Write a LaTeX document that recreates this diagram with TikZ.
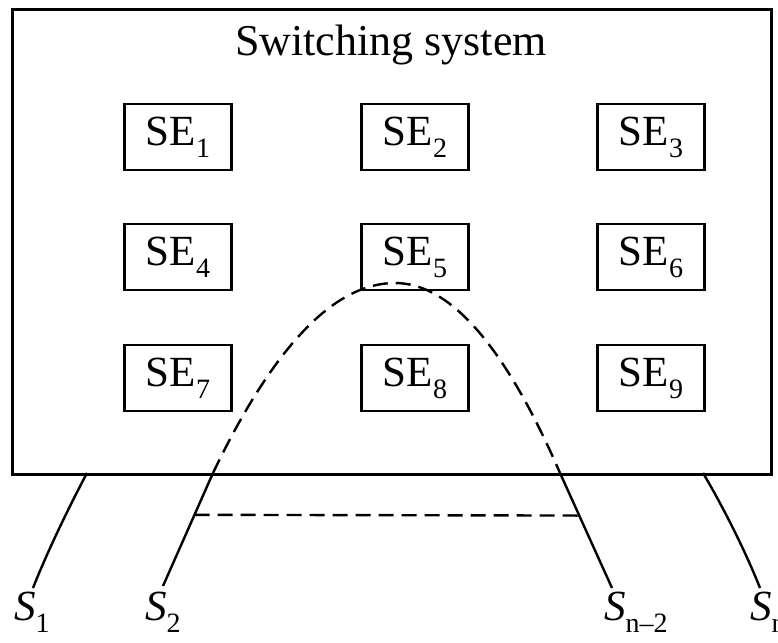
\documentclass[tikz,border=0pt]{standalone}
\usepackage{fontspec}
\setmainfont{Liberation Serif}
\usetikzlibrary{calc}
\newcommand{\lowsub}[1]{\raisebox{-0.28em}{\fontsize{28}{30}\selectfont #1}}
\begin{document}
\begin{tikzpicture}[x=1pt,y=-1pt,
  sebox/.style={draw,line width=2.4pt,minimum width=107pt,minimum height=66pt,inner sep=0pt},
  lbl/.style={font=\fontsize{43}{46}\selectfont,inner sep=0pt},
  wire/.style={line width=2.4pt},
  route/.style={line width=2.4pt,dash pattern=on 15pt off 8pt}]
\useasboundingbox (0,0) rectangle (778,642);
% switching system frame
\node[draw,line width=3pt,minimum width=759pt,minimum height=465pt,inner sep=0pt,anchor=north west] (sys) at (11,8) {};
\node[lbl,font=\fontsize{44}{48}\selectfont] (title) at (391,45) {Switching system};
% switching elements
\foreach \i/\x/\y in {1/178/137,2/415/137,3/651/137,4/178/257,5/415/257,6/651/257,7/178/378,8/415/378,9/651/378}
  \node[sebox,font=\fontsize{43}{46}\selectfont] (se\i) at (\x,\y) {SE\lowsub{\i}};
% terminal end points on the frame and below it
\coordinate (t1) at (87,473);
\coordinate (t2) at (213,473);
\coordinate (t3) at (560,473);
\coordinate (t4) at (703,473);
\coordinate (e1) at (33,588);
\coordinate (e2) at (163,586);
\coordinate (e3) at (612,588);
\coordinate (e4) at (760,588);
\coordinate (peak) at (395,283);
% terminal lines
\draw[wire] (t1) .. controls (70,505) and (48,550) .. (e1);
\draw[wire] (t2) -- (e2);
\draw[wire] (t3) -- (e3);
\draw[wire] (t4) .. controls (722,505) and (745,550) .. (e4);
% path through the system and direct connection
\draw[route] (t2) .. controls (273.7,346.3) and (334.3,283) .. (peak)
  .. controls (450,283) and (505,346) .. (t3);
\draw[route] ($(t2)!0.37!(e2)$) -- ($(t3)!0.37!(e3)$);
% terminal labels
\node[lbl,anchor=north west] (s1) at (14,592) {\textit{S}\lowsub{1}};
\node[lbl,anchor=north west] (s2) at (145,592) {\textit{S}\lowsub{2}};
\node[lbl,anchor=north west] (s3) at (604,592) {\textit{S}\lowsub{n--2}};
\node[lbl,anchor=north west] (s4) at (750,592) {\textit{S}\lowsub{n}};
\end{tikzpicture}
\end{document}
